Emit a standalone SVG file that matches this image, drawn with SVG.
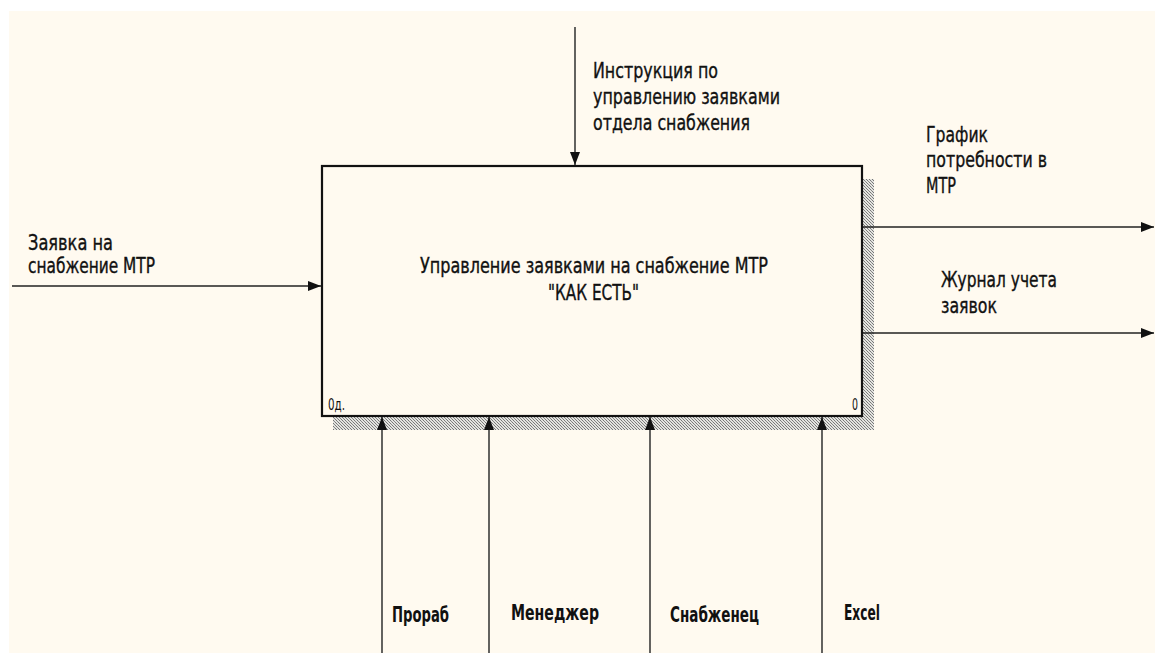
<svg xmlns="http://www.w3.org/2000/svg" width="1155" height="653" viewBox="0 0 1155 653">
<style>
.t{font-family:"Liberation Sans Narrow","DejaVu Sans Condensed","Liberation Sans",sans-serif;font-size:21px;fill:#111;stroke:#111;stroke-width:0.35;}
.b{font-weight:bold;stroke-width:0;}
.s{font-family:"Liberation Sans Narrow","DejaVu Sans Condensed","Liberation Sans",sans-serif;font-size:16px;fill:#111;}
.ln{stroke:#222;stroke-width:1.4;fill:none;}
</style>
<defs>
<pattern id="hatch" width="3" height="3" patternUnits="userSpaceOnUse">
<rect width="3" height="3" fill="#e4e4e0"/>
<rect x="0" y="0" width="1" height="1" fill="#777"/>
<rect x="1" y="1" width="1" height="1" fill="#888"/>
<rect x="2" y="2" width="1" height="1" fill="#777"/>
</pattern>
<marker id="ah" viewBox="0 0 13 10" refX="13" refY="5" markerWidth="13" markerHeight="10" markerUnits="userSpaceOnUse" orient="auto">
<path d="M0,0 L13,5 L0,10 Z" fill="#111"/>
</marker>
</defs>
<rect width="1155" height="653" fill="#fff"/>
<rect x="9" y="11" width="1146" height="642" fill="#FFFAF0"/>

<g id="node-main">
<rect x="863" y="179" width="11" height="251" fill="url(#hatch)"/>
<rect x="333" y="416" width="541" height="14" fill="url(#hatch)"/>
<rect x="322" y="166" width="540" height="250" fill="#FFFAF0" stroke="#111" stroke-width="2.2"/>
<text class="t" x="420" y="273" textLength="348" lengthAdjust="spacingAndGlyphs">Управление заявками на снабжение МТР</text>
<text class="t" x="548" y="300" textLength="91" lengthAdjust="spacingAndGlyphs">"КАК ЕСТЬ"</text>
<text class="s" x="328" y="410" textLength="17" lengthAdjust="spacingAndGlyphs">0д.</text>
<text class="s" x="852" y="410" textLength="6" lengthAdjust="spacingAndGlyphs">0</text>
</g>

<g id="connectors">
<line class="ln" x1="12" y1="286" x2="321" y2="286" marker-end="url(#ah)"/>
<line class="ln" x1="575" y1="27" x2="575" y2="165" marker-end="url(#ah)"/>
<line class="ln" x1="863" y1="227" x2="1154" y2="227" marker-end="url(#ah)"/>
<line class="ln" x1="863" y1="333" x2="1154" y2="333" marker-end="url(#ah)"/>
<line class="ln" x1="382" y1="653" x2="382" y2="417" marker-end="url(#ah)"/>
<line class="ln" x1="489" y1="653" x2="489" y2="417" marker-end="url(#ah)"/>
<line class="ln" x1="650" y1="653" x2="650" y2="417" marker-end="url(#ah)"/>
<line class="ln" x1="822" y1="653" x2="822" y2="417" marker-end="url(#ah)"/>
</g>

<g id="label-input">
<text class="t" x="28" y="250" textLength="85" lengthAdjust="spacingAndGlyphs">Заявка на</text>
<text class="t" x="28" y="273" textLength="127" lengthAdjust="spacingAndGlyphs">снабжение МТР</text>
</g>
<g id="label-control">
<text class="t" x="593" y="78" textLength="125" lengthAdjust="spacingAndGlyphs">Инструкция по</text>
<text class="t" x="593" y="104" textLength="187" lengthAdjust="spacingAndGlyphs">управлению заявками</text>
<text class="t" x="593" y="130" textLength="157" lengthAdjust="spacingAndGlyphs">отдела снабжения</text>
</g>
<g id="label-output1">
<text class="t" x="926" y="142" textLength="62" lengthAdjust="spacingAndGlyphs">График</text>
<text class="t" x="926" y="167" textLength="121" lengthAdjust="spacingAndGlyphs">потребности в</text>
<text class="t" x="926" y="193" textLength="30" lengthAdjust="spacingAndGlyphs">МТР</text>
</g>
<g id="label-output2">
<text class="t" x="941" y="287" textLength="116" lengthAdjust="spacingAndGlyphs">Журнал учета</text>
<text class="t" x="941" y="313" textLength="56" lengthAdjust="spacingAndGlyphs">заявок</text>
</g>
<g id="label-mechanisms">
<text class="t b" x="392" y="622" textLength="57" lengthAdjust="spacingAndGlyphs">Прораб</text>
<text class="t b" x="511" y="620" textLength="88" lengthAdjust="spacingAndGlyphs">Менеджер</text>
<text class="t b" x="670" y="622" textLength="89" lengthAdjust="spacingAndGlyphs">Снабженец</text>
<text class="t b" x="844" y="620" textLength="36" lengthAdjust="spacingAndGlyphs">Excel</text>
</g>
</svg>
